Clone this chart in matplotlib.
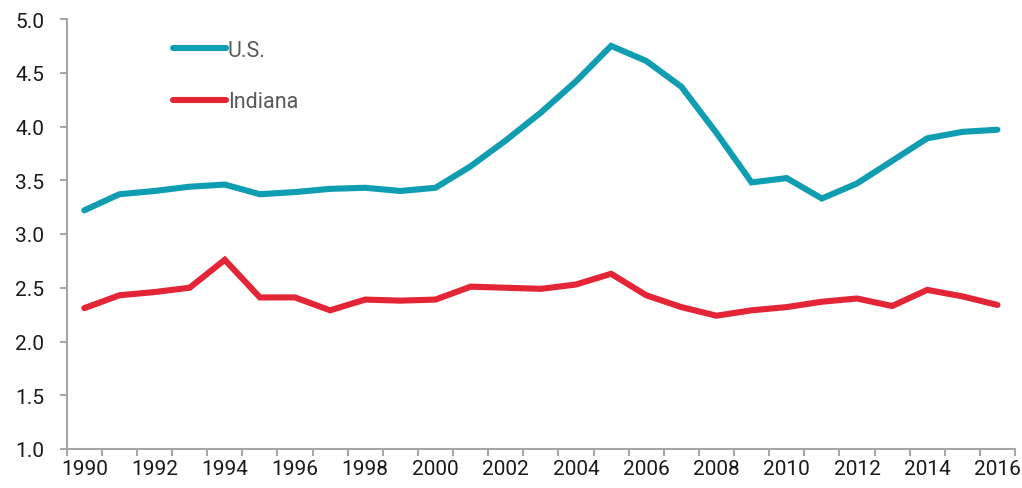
import matplotlib.pyplot as plt
from matplotlib.ticker import FixedLocator, NullFormatter

# annual values, 1990-2016
years = list(range(1990, 2017))
us = [3.22, 3.37, 3.40, 3.44, 3.46, 3.37, 3.39, 3.42, 3.43, 3.40,
      3.43, 3.63, 3.87, 4.13, 4.42, 4.75, 4.61, 4.37, 3.94, 3.48,
      3.52, 3.33, 3.47, 3.68, 3.89, 3.95, 3.97]
indiana = [2.31, 2.43, 2.46, 2.50, 2.76, 2.41, 2.41, 2.29, 2.39, 2.38,
           2.39, 2.51, 2.50, 2.49, 2.53, 2.63, 2.43, 2.32, 2.24, 2.29,
           2.32, 2.37, 2.40, 2.33, 2.48, 2.42, 2.34]

plt.rcParams['font.family'] = ['Roboto', 'DejaVu Sans']

fig = plt.figure(figsize=(10.22, 4.89), dpi=100)
ax = fig.add_axes([66.7/1022, 1 - 450/489, (1015 - 66.7)/1022, (450 - 20)/489])

x = list(range(len(years)))
ax.plot(x, us, color='#0F9DB2', lw=4.4, label='U.S.', solid_capstyle='round', solid_joinstyle='miter')
ax.plot(x, indiana, color='#E32535', lw=4.4, label='Indiana', solid_capstyle='round', solid_joinstyle='miter')

ax.set_xlim(-0.5, len(years) - 0.5)
ax.set_ylim(1.0, 5.0)
ax.set_yticks([1.0, 1.5, 2.0, 2.5, 3.0, 3.5, 4.0, 4.5, 5.0])
ax.set_yticklabels(['%.1f' % v for v in ax.get_yticks()])

# tick marks between years, labels on even years
ax.xaxis.set_major_locator(FixedLocator([i - 0.5 for i in range(len(years) + 1)]))
ax.xaxis.set_major_formatter(NullFormatter())
ax.xaxis.set_minor_locator(FixedLocator([i for i in x if years[i] % 2 == 0]))
ax.set_xticklabels([str(y) for y in years if y % 2 == 0], minor=True)
ax.tick_params(axis='x', which='minor', length=0, pad=7, labelsize=15, labelcolor='#1a1a1a')
ax.tick_params(axis='x', which='major', length=5, width=1.5, color='#A6A6A6')
ax.tick_params(axis='y', length=5, width=1.5, color='#A6A6A6', pad=11, labelsize=15, labelcolor='#1a1a1a')

for s in ['top', 'right']:
    ax.spines[s].set_visible(False)
for s in ['left', 'bottom']:
    ax.spines[s].set_color('#A6A6A6')
    ax.spines[s].set_linewidth(1.5)

leg = ax.legend(loc='upper left', bbox_to_anchor=(0.112, 0.952), frameon=False,
                fontsize=15.5, handlelength=2.45, handletextpad=0.1, labelspacing=1.42,
                borderpad=0, borderaxespad=0)
for t in leg.get_texts():
    t.set_color('#595959')

fig.savefig('out.png', dpi=100)
